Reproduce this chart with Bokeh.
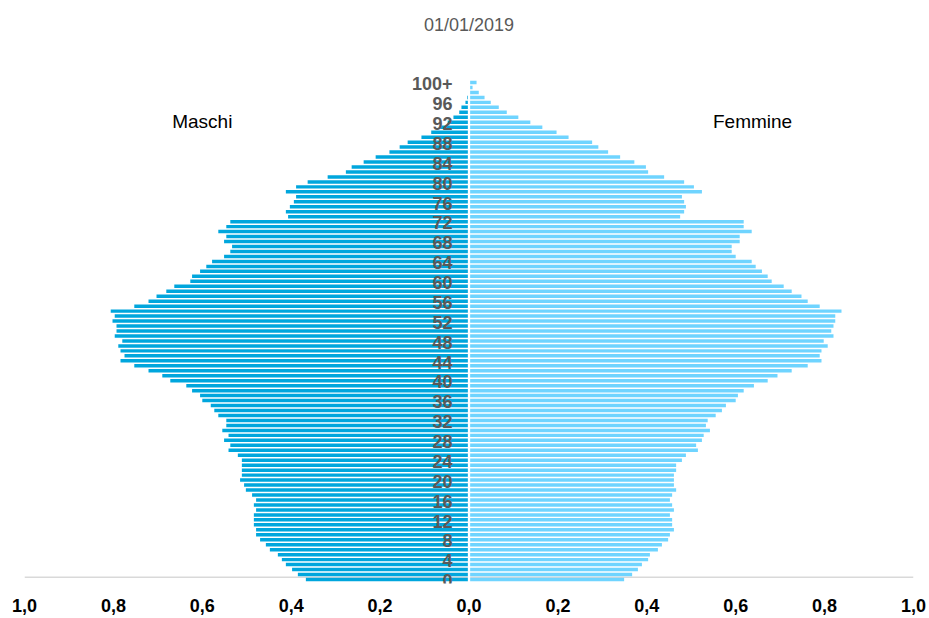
from bokeh.plotting import figure
from bokeh.models import FixedTicker, Span, ColumnDataSource
from bokeh.core.properties import value
from bokeh.embed import file_html
from bokeh.resources import INLINE

# ---------------- data ----------------
ages = list(range(101))  # 0 .. 99, 100 = "100+"

males = [
    0.367, 0.385, 0.398, 0.412, 0.421, 0.430, 0.448, 0.457, 0.470, 0.479,
    0.479, 0.484, 0.484, 0.484, 0.479, 0.484, 0.479, 0.488, 0.502, 0.506,
    0.515, 0.511, 0.511, 0.511, 0.511, 0.520, 0.541, 0.537, 0.551, 0.541,
    0.555, 0.546, 0.546, 0.564, 0.573, 0.581, 0.600, 0.605, 0.623, 0.636,
    0.672, 0.690, 0.721, 0.753, 0.784, 0.775, 0.784, 0.789, 0.780, 0.797,
    0.793, 0.793, 0.802, 0.797, 0.806, 0.753, 0.721, 0.703, 0.681, 0.663,
    0.627, 0.623, 0.605, 0.591, 0.578, 0.551, 0.537, 0.533, 0.551, 0.546,
    0.564, 0.546, 0.537, 0.407, 0.412, 0.403, 0.394, 0.389, 0.412, 0.389,
    0.363, 0.318, 0.277, 0.264, 0.237, 0.210, 0.179, 0.156, 0.138, 0.107,
    0.085, 0.065, 0.048, 0.035, 0.022, 0.017, 0.008, 0.004, 0.002, 0.001,
    0.001,
]

females = [
    0.349, 0.367, 0.380, 0.389, 0.403, 0.407, 0.425, 0.434, 0.448, 0.452,
    0.461, 0.457, 0.457, 0.452, 0.461, 0.457, 0.452, 0.457, 0.466, 0.461,
    0.461, 0.461, 0.466, 0.466, 0.479, 0.488, 0.515, 0.511, 0.524, 0.528,
    0.542, 0.533, 0.537, 0.555, 0.569, 0.578, 0.600, 0.605, 0.618, 0.641,
    0.672, 0.694, 0.726, 0.762, 0.793, 0.789, 0.793, 0.807, 0.798, 0.820,
    0.815, 0.820, 0.824, 0.824, 0.838, 0.789, 0.762, 0.748, 0.726, 0.708,
    0.681, 0.672, 0.659, 0.645, 0.636, 0.600, 0.591, 0.591, 0.609, 0.609,
    0.636, 0.618, 0.618, 0.475, 0.484, 0.488, 0.484, 0.479, 0.524, 0.506,
    0.484, 0.439, 0.403, 0.398, 0.372, 0.340, 0.313, 0.291, 0.277, 0.224,
    0.197, 0.165, 0.138, 0.111, 0.085, 0.067, 0.049, 0.035, 0.022, 0.008,
    0.017,
]

age_label_ages = list(range(0, 101, 4))
age_label_texts = [str(a) for a in range(0, 97, 4)] + ["100+"]

x_ticks = [-1.0, -0.8, -0.6, -0.4, -0.2, 0.0, 0.2, 0.4, 0.6, 0.8, 1.0]
x_tick_labels = ["1,0", "0,8", "0,6", "0,4", "0,2", "0,0",
                 "0,2", "0,4", "0,6", "0,8", "1,0"]

title_text = "01/01/2019"
male_label = "Maschi"
female_label = "Femmine"

# ---------------- layout ----------------
W, H = 929, 618
STEP = 4.97           # pixels per age row
AGE0_PX = 579.0       # pixel y of the age-0 row
BOTTOM_BORDER = 35
FRAME_BOTTOM_PX = H - BOTTOM_BORDER
y_start = (AGE0_PX - FRAME_BOTTOM_PX) / STEP
y_end = AGE0_PX / STEP

FONT = "Liberation Sans"
MALE_COLOR = "#00A6DD"
FEMALE_COLOR = "#6FD4FF"

src = ColumnDataSource(dict(
    age=ages,
    male_left=[-m for m in males],
    female_right=females,
))

p = figure(
    width=W, height=H,
    x_range=(-1.0, 1.0), y_range=(y_start, y_end),
    output_backend="svg", toolbar_location=None,
    y_axis_location=None,
    min_border_left=24, min_border_right=16,
    min_border_top=0, min_border_bottom=BOTTOM_BORDER,
    outline_line_color=None,
    background_fill_color="white", border_fill_color="white",
)
p.xgrid.visible = False
p.ygrid.visible = False

# baseline (grey axis line)
p.add_layout(Span(location=0.46, dimension="width", line_color="#D9D9D9",
                  line_width=1.5, level="underlay"))

p.hbar(y="age", left="male_left", right=0, height=0.7, source=src,
       fill_color=MALE_COLOR, line_color=None)
p.hbar(y="age", left=0, right="female_right", height=0.7, source=src,
       fill_color=FEMALE_COLOR, line_color=None)

# thin white separator between the two halves
p.segment(x0=0, y0=ages[0] - 0.5, x1=0, y1=ages[-1] + 0.5,
          line_color="white", line_width=2.3)

# age labels
p.text(x=-0.037, y=[a - 0.25 for a in age_label_ages], text=age_label_texts,
       text_font=value(FONT), text_font_style="bold", text_font_size="18px",
       text_color="#595959", text_align="right", text_baseline="middle")

# title and side labels
p.text(x=[0.0], y=[111.47], text=[title_text], text_font=value(FONT),
       text_font_size="18px", text_color="#595959",
       text_align="center", text_baseline="middle")
p.text(x=[-0.6], y=[92.15], text=[male_label], text_font=value(FONT),
       text_font_size="19px", text_color="#000000",
       text_align="center", text_baseline="middle")
p.text(x=[0.638], y=[92.15], text=[female_label], text_font=value(FONT),
       text_font_size="19px", text_color="#000000",
       text_align="center", text_baseline="middle")

# x axis
ax = p.xaxis[0]
ax.ticker = FixedTicker(ticks=x_ticks)
ax.major_label_overrides = {t: l for t, l in zip(x_ticks, x_tick_labels)}
ax.major_label_text_font = FONT
ax.major_label_text_font_style = "bold"
ax.major_label_text_font_size = "18px"
ax.major_label_text_color = "#000000"
ax.major_label_standoff = 9
ax.major_tick_line_color = None
ax.minor_tick_line_color = None
ax.axis_line_color = None

open("out.html", "w").write(file_html(p, INLINE))
